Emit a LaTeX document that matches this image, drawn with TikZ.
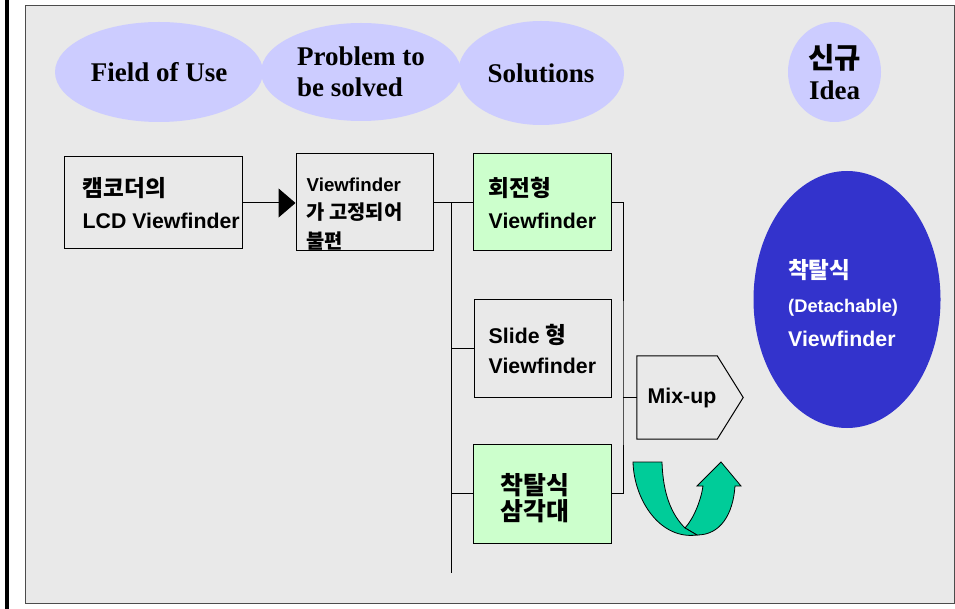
\documentclass[tikz,border=0pt]{standalone}
\usepackage{fontspec}
\setmainfont{Liberation Serif}
\setsansfont{Liberation Sans}
\newfontfamily\kor[Scale=1.06]{Noto Sans CJK KR}
\usetikzlibrary{arrows.meta,shapes.geometric,positioning}
\definecolor{lilac}{HTML}{CCCCFF}
\definecolor{mint}{HTML}{CCFFCC}
\definecolor{royal}{HTML}{3333CC}
\definecolor{uturn}{HTML}{00CC99}
\definecolor{panel}{HTML}{E9E9E9}

\begin{document}
\begin{tikzpicture}[x=1pt,y=-1pt,
      hdr/.style={ellipse,fill=lilac,inner sep=0pt,align=left,
        font=\bfseries\fontsize{27}{31}\selectfont},
      box/.style={draw,line width=1pt,inner sep=0pt},
      txt/.style={inner sep=0pt,align=left,
        font=\sffamily\bfseries\fontsize{21.3}{32}\selectfont},
      line/.style={line width=1pt},
      turn/.style={fill=uturn,draw=black,line width=.8pt}]

      \useasboundingbox (0,0) rectangle (955,609);
      \fill[white] (0,0) rectangle (955,609);
      \draw[line width=3.5pt] (7,0) -- (7,609);
      \draw[fill=panel,draw=black!70] (25,5) rectangle (954,603);

      % headings
      \node[hdr,minimum width=208,minimum height=100] (field) at (159,72) {Field of Use};
      \node[hdr,minimum width=200,minimum height=98] (problem) at (361,72) {Problem to\\be solved};
      \node[hdr,minimum width=166,minimum height=104] (solution) at (541,73) {Solutions};
      \node[hdr,minimum width=93,minimum height=100,align=center] (idea) at (834.5,72)
      { {\kor 신규}\\Idea };

      % boxes
      \node[box,minimum width=178,minimum height=92] (cam) at (153,203) {};
      \node[txt,right=19pt of cam.west] (camtxt) { {\kor 캠코더의}\\LCD Viewfinder };

      \node[box,minimum width=137,minimum height=97] (prob) at (364.5,202.5) {};
      \node[txt,font=\sffamily\bfseries\fontsize{18.7}{28.5}\selectfont,
        below right=24pt and 11pt of prob.north west] (probtxt)
      { Viewfinder\\{\kor 가 고정되어}\\{\kor 불편} };

      \node[box,fill=mint,minimum width=138,minimum height=97] (rot) at (542,202.5) {};
      \node[txt,right=16pt of rot.west] (rottxt) { {\kor 회전형}\\Viewfinder };

      \node[box,minimum width=137,minimum height=97] (slide) at (542.5,348.5) {};
      \node[txt,font=\sffamily\bfseries\fontsize{21.3}{30}\selectfont,
        right=15pt of slide.west] (slidetxt) { Slide {\kor 형}\\Viewfinder };

      \node[box,fill=mint,minimum width=138,minimum height=99] (tri) at (542,493.5) {};
      \node[txt,align=center,font=\bfseries\kor\fontsize{23.5}{26}\selectfont] (tritxt)
      at (535,498) { 착탈식\\삼각대 };

      \node[txt,minimum width=80,minimum height=83] (mix) at (677,397.5) {\hspace*{10pt}Mix-up};
      \draw[line] (mix.north west) -- (mix.north east) -- ([xshift=26pt]mix.east)
      -- (mix.south east) -- (mix.south west) -- cycle;

      \node[ellipse,fill=royal,inner sep=0pt,minimum width=187,minimum height=257]
      (detach) at (847,299.5) {};
      \node[txt,text=white,font=\sffamily\bfseries\fontsize{21.3}{34}\selectfont,
        anchor=west] (detachtxt) at (788,303)
      { {\kor 착탈식}\\{\fontsize{18.3}{34}\selectfont (Detachable)}\\Viewfinder };

      % connectors
      \coordinate (top) at (451,202.5);
      \coordinate (bot) at (451,573);
      \coordinate (bk) at (623,397.5);

      \draw[line,-{Triangle[length=17pt,width=29pt]}] (cam.east) -- (cam.east -| prob.west);
      \draw[line] (prob.east) -- (rot.west);
      \draw[line] (top) -- (bot);
      \draw[line] (top |- slide.west) -- (slide.west);
      \draw[line] (top |- tri.west) -- (tri.west);
      \draw[line] (rot.east) -| (bk) |- (tri.east);
      \draw[line] (bk) -- (mix.west);

      % u-turn arrow
      \draw[turn] (685,528) .. controls (694,518) and (701,500) .. (703,486)
      -- (697,486) -- (721,462) -- (741,486) -- (735,486)
      .. controls (733,515) and (720,535) .. (697,535) -- cycle;
      \draw[turn] (633,462) -- (662,462) .. controls (663,495) and (672,515) .. (685,528)
      -- (697,535) .. controls (660,540) and (634,500) .. (633,462) -- cycle;
    \end{tikzpicture}
\end{document}
